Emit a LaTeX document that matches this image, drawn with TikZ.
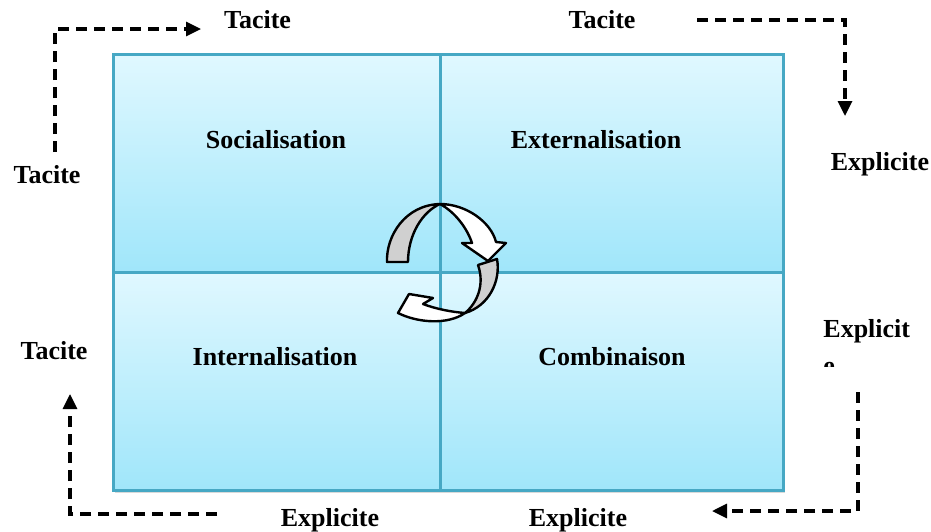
\documentclass[tikz,border=0pt]{standalone}
\usepackage{fontspec}
\setmainfont{Liberation Serif}
\usetikzlibrary{arrows.meta,shadows}
\definecolor{quadline}{RGB}{70,168,196}
\definecolor{quadtop}{RGB}{224,248,255}
\definecolor{quadbot}{RGB}{160,230,250}
\definecolor{ribbon}{RGB}{208,208,208}
\tikzset{
  quad/.style={draw=quadline, line width=1.5pt, top color=quadtop, bottom color=quadbot,
    anchor=north west, inner sep=0pt, outer sep=0pt,
    drop shadow={shadow xshift=1.2pt, shadow yshift=-1.5pt, opacity=0.25, fill=black!60}},
  lbl/.style={font=\fontsize{13}{15}\selectfont\bfseries, inner sep=0pt, anchor=base},
  dasharrow/.style={line width=1.6pt, dash pattern=on 5.5pt off 3.5pt,
    -{Triangle[length=7.5pt,width=7pt]}},
  ribbonpart/.style={draw=black, line width=1.2pt, line join=round}
}
\begin{document}
\begin{tikzpicture}[x=0.5pt,y=-0.5pt]
\useasboundingbox (0,0) rectangle (931,531);
% quadrants
\node[quad, minimum width=163.5pt, minimum height=109pt] (q1) at (113,54) {};
\node[quad, minimum width=171.5pt, minimum height=109pt] (q2) at (440,54) {};
\node[quad, minimum width=163.5pt, minimum height=109pt] (q3) at (113,272) {};
\node[quad, minimum width=171.5pt, minimum height=109pt] (q4) at (440,272) {};
% quadrant labels
\node[lbl] (soc) at (276,148) {Socialisation};
\node[lbl] (ext) at (596,148) {Externalisation};
\node[lbl] (int) at (275,365) {Internalisation};
\node[lbl] (com) at (612,365) {Combinaison};
% outer labels
\node[lbl] (t1) at (257.5,28) {Tacite};
\node[lbl] (t2) at (602,28) {Tacite};
\node[lbl] (t3) at (47,183) {Tacite};
\node[lbl] (t4) at (54,359) {Tacite};
\node[lbl] (e1) at (880,170) {Explicite};
\node[lbl, anchor=base west] (e2) at (823,337) {Explicit};
\begin{scope}
  \clip (800,340) rectangle (870,366);
  \node[lbl, anchor=base west] (e2b) at (823,374) {e};
\end{scope}
\node[lbl] (e3) at (330,526) {Explicite};
\node[lbl] (e4) at (578,526) {Explicite};
% dashed arrows
\coordinate (a1s) at (55,152);  \coordinate (a1e) at (201,29);
\coordinate (a2s) at (697,20);  \coordinate (a2e) at (845,116);
\coordinate (a3s) at (858,392); \coordinate (a3e) at (712,511);
\coordinate (a4s) at (217,514); \coordinate (a4e) at (70,394);
\draw[dasharrow] (a1s) |- (a1e);
\draw[dasharrow] (a2s) -| (a2e);
\draw[dasharrow] (a3s) |- (a3e);
\draw[dasharrow] (a4s) -| (a4e);
% circular arrows
\draw[ribbonpart, fill=ribbon] (387,262) .. controls (386,236) and (405,205) .. (440,204)
   .. controls (422,212) and (408,235) .. (408,262) -- cycle;
\draw[ribbonpart, fill=white] (440,204) .. controls (466,204) and (491,222) .. (496,242)
   -- (506,243) -- (488,261) -- (462,243) -- (472,243)
   .. controls (467,228) and (455,212) .. (440,204) -- cycle;
\draw[ribbonpart, fill=ribbon] (478,265) -- (497,259) .. controls (501,281) and (489,306) .. (465,313)
   .. controls (477,303) and (485,285) .. (478,265) -- cycle;
\draw[ribbonpart, fill=white] (465,313) .. controls (452,312) and (436,309) .. (423,304)
   -- (433,298) -- (409,294) -- (398,313)
   .. controls (418,323) and (448,325) .. (465,313) -- cycle;
\end{tikzpicture}
\end{document}
